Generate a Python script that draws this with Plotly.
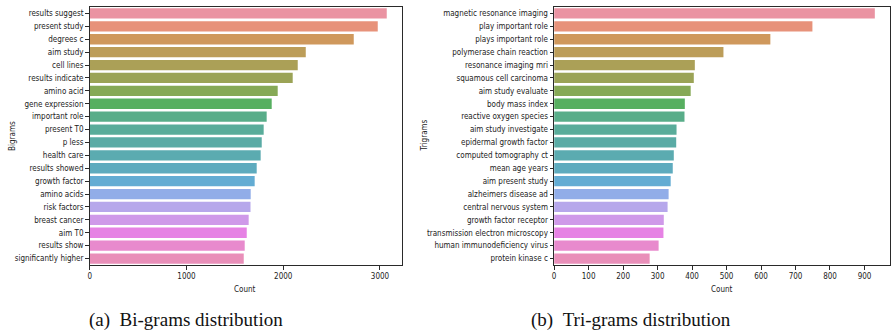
import math
import colorsys
import plotly.graph_objects as go

bigrams = ["results suggest", "present study", "degrees c", "aim study", "cell lines",
           "results indicate", "amino acid", "gene expression", "important role", "present T0",
           "p less", "health care", "results showed", "growth factor", "amino acids",
           "risk factors", "breast cancer", "aim T0", "results show", "significantly higher"]
bigram_counts = [3070, 2977, 2729, 2233, 2150, 2098, 1943, 1881, 1829, 1798,
                 1778, 1767, 1726, 1705, 1664, 1662, 1643, 1623, 1602, 1592]

trigrams = ["magnetic resonance imaging", "play important role", "plays important role",
            "polymerase chain reaction", "resonance imaging mri", "squamous cell carcinoma",
            "aim study evaluate", "body mass index", "reactive oxygen species",
            "aim study investigate", "epidermal growth factor", "computed tomography ct",
            "mean age years", "aim present study", "alzheimers disease ad",
            "central nervous system", "growth factor receptor",
            "transmission electron microscopy", "human immunodeficiency virus", "protein kinase c"]
trigram_counts = [930, 749, 627, 491, 408, 405, 396, 379, 378, 355,
                  354, 347, 344, 338, 332, 329, 318, 317, 303, 277]

bi_ticks = [0, 1000, 2000, 3000]
tri_ticks = [0, 100, 200, 300, 400, 500, 600, 700, 800, 900]

# ---- husl palette (seaborn style) with barplot desaturation ----
_M = [[3.240969941904521, -1.537383177570093, -0.498610760293],
      [-0.96924363628087, 1.87596750150772, 0.041555057407175],
      [0.055630079696993, -0.20397695888897, 1.056971514242878]]
_refU, _refV = 0.19783000664283, 0.46831999493879
_kappa, _eps = 903.2962962, 0.0088564516


def _bounds(L):
    sub1 = ((L + 16) ** 3) / 1560896
    sub2 = sub1 if sub1 > _eps else L / _kappa
    out = []
    for m1, m2, m3 in _M:
        for t in (0, 1):
            top1 = (284517 * m1 - 94839 * m3) * sub2
            top2 = (838422 * m3 + 769860 * m2 + 731718 * m1) * L * sub2 - 769860 * t * L
            bottom = (632260 * m3 - 126452 * m2) * sub2 + 126452 * t
            out.append((top1 / bottom, top2 / bottom))
    return out


def _max_chroma(L, H):
    hr = H / 360 * 2 * math.pi
    best = float("inf")
    for slope, inter in _bounds(L):
        d = math.sin(hr) - slope * math.cos(hr)
        if d == 0:
            continue
        length = inter / d
        if length >= 0:
            best = min(best, length)
    return best


def husl_to_rgb(H, S, L):
    C = _max_chroma(L, H) / 100 * S
    hr = H / 360 * 2 * math.pi
    U, V = math.cos(hr) * C, math.sin(hr) * C
    varU = U / (13 * L) + _refU
    varV = V / (13 * L) + _refV
    Y = L / _kappa if L <= 8 else ((L + 16) / 116) ** 3
    X = 0 - (9 * Y * varU) / ((varU - 4) * varV - varU * varV)
    Z = (9 * Y - 15 * varV * Y - varV * X) / (3 * varV)
    rgb = []
    for row in _M:
        c = row[0] * X + row[1] * Y + row[2] * Z
        c = 12.92 * c if c <= 0.0031308 else 1.055 * c ** (1 / 2.4) - 0.055
        rgb.append(min(max(c, 0), 1))
    return rgb


def palette(n, sat=0.75, alpha=0.88):
    cols = []
    for i in range(n):
        h = ((i / n) + 0.01) % 1 * 359
        r, g, b = husl_to_rgb(h, 90, 65)
        hh, ll, ss = colorsys.rgb_to_hls(r, g, b)
        r, g, b = colorsys.hls_to_rgb(hh, ll, ss * sat)
        r, g, b = [alpha * c + (1 - alpha) for c in (r, g, b)]
        cols.append("rgb(%d,%d,%d)" % (round(r * 255), round(g * 255), round(b * 255)))
    return cols


colors = palette(20)

W, H = 891, 335
fig = go.Figure()
fig.add_trace(go.Bar(x=bigram_counts, y=bigrams, orientation="h",
                     marker=dict(color=colors, line=dict(width=0)),
                     xaxis="x", yaxis="y", showlegend=False))
fig.add_trace(go.Bar(x=trigram_counts, y=trigrams, orientation="h",
                     marker=dict(color=colors, line=dict(width=0)),
                     xaxis="x2", yaxis="y2", showlegend=False))

tick_font = dict(family="DejaVu Sans Condensed, DejaVu Sans", size=8, color="#222")
y0 = 1 - 265 / H
y1 = 1 - 7 / H
axis_common = dict(showgrid=False, zeroline=False, showline=True, mirror=True,
                   linecolor="#2a2a2a", linewidth=1.2, ticks="outside", ticklen=3.5,
                   tickwidth=1, tickcolor="#2a2a2a", tickfont=tick_font)

fig.update_layout(
    width=W, height=H, margin=dict(l=0, r=0, t=0, b=0),
    paper_bgcolor="white", plot_bgcolor="white", bargap=0.2,
    xaxis=dict(domain=[88 / W, 401 / W], range=[0, 3224], tickvals=bi_ticks,
               anchor="y", **axis_common),
    yaxis=dict(domain=[y0, y1], range=[19.5, -0.5], type="category",
               categoryorder="array", categoryarray=bigrams, anchor="x", **axis_common),
    xaxis2=dict(domain=[554 / W, 1.0], range=[0, 974], tickvals=tri_ticks,
                anchor="y2", **axis_common),
    yaxis2=dict(domain=[y0, y1], range=[19.5, -0.5], type="category",
                categoryorder="array", categoryarray=trigrams, anchor="x2", **axis_common),
)

lab_font = dict(family="DejaVu Sans Condensed, DejaVu Sans", size=8, color="#222")
cap_font = dict(family="Liberation Serif, Times New Roman, serif", size=19, color="#111")
ann = [
    dict(text="Count", x=244 / W, y=1 - 289 / H, font=lab_font),
    dict(text="Count", x=722 / W, y=1 - 289 / H, font=lab_font),
    dict(text="Bigrams", x=10 / W, y=1 - 136 / H, font=lab_font, textangle=-90),
    dict(text="Trigrams", x=423 / W, y=1 - 136 / H, font=lab_font, textangle=-90),
    dict(text="(a)\u00a0\u00a0Bi-grams distribution", x=185 / W, y=1 - 320 / H, font=cap_font),
    dict(text="(b)\u00a0\u00a0Tri-grams distribution", x=631 / W, y=1 - 320 / H, font=cap_font),
]
for a in ann:
    fig.add_annotation(xref="paper", yref="paper", showarrow=False,
                       xanchor="center", yanchor="middle", **a)

fig.write_html("out.html")
